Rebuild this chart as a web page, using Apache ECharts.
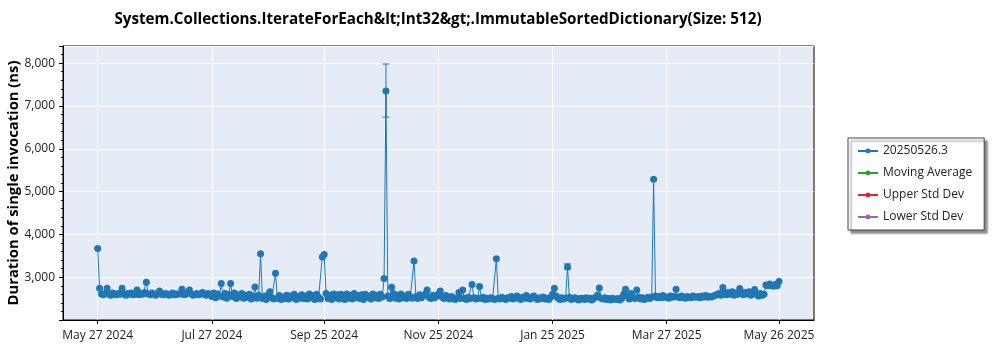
<!DOCTYPE html>
<html>
<head>
<meta charset="utf-8">
<script src="https://cdn.jsdelivr.net/npm/echarts@6/dist/echarts.min.js"></script>
<style>
html,body{margin:0;padding:0;background:#fff;}
#chart{width:1000px;height:350px;}
</style>
</head>
<body>
<div id="chart"></div>
<script>
// ---- data ----
const chartTitle = 'System.Collections.IterateForEach&lt;Int32&gt;.ImmutableSortedDictionary(Size: 512)';
const yAxisTitle = 'Duration of single invocation (ns)';
const seriesNames = ['20250526.3', 'Moving Average', 'Upper Std Dev', 'Lower Std Dev'];
const seriesColors = ['#1f77b4', '#2ca02c', '#d62728', '#9467bd'];
const firstDate = [2024, 4, 27];          // May 27 2024, one measurement per day
const tickDates = [[2024,4,27],[2024,6,27],[2024,8,25],[2024,10,25],[2025,0,25],[2025,2,27],[2025,4,26]];
const yTickValues = [3000, 4000, 5000, 6000, 7000, 8000];
const durations = [
 3670,2740,2610,2590,2620,2740,2600,2580,2630,2610,2590,2620,2600,2740,2610,2580,2620,2600,2630,2590,
 2610,2700,2590,2620,2600,2640,2880,2610,2590,2630,2600,2580,2620,2680,2600,2590,2620,2610,2580,2600,
 2630,2590,2610,2600,2620,2720,2590,2600,2630,2700,2610,2580,2600,2620,2590,2610,2640,2600,2580,2620,
 2600,2550,2630,2520,2610,2560,2855,2540,2620,2510,2600,2855,2550,2630,2500,2590,2540,2620,2510,2580,
 2530,2600,2490,2560,2770,2510,2580,3545,2500,2550,2480,2590,2660,2520,2490,3090,2510,2570,2480,2540,
 2500,2580,2490,2560,2520,2600,2480,2550,2510,2590,2500,2560,2490,2610,2520,2570,2480,2600,2530,2490,
 3470,3530,2620,2500,2580,2480,2610,2520,2590,2490,2600,2540,2480,2610,2510,2580,2490,2620,2520,2570,
 2500,2590,2480,2600,2530,2560,2490,2610,2520,2580,2500,2600,2540,2970,7350,2560,2500,2766,2620,2510,
 2580,2490,2610,2520,2560,2500,2600,2540,2510,3380,2550,2500,2590,2520,2570,2610,2700,2530,2500,2580,
 2520,2560,2610,2680,2540,2500,2570,2520,2490,2550,2500,2480,2520,2640,2500,2700,2510,2480,2530,2500,
 2830,2520,2490,2510,2780,2500,2530,2480,2510,2490,2520,2500,2480,3430,2510,2490,2530,2500,2480,2520,
 2510,2550,2490,2520,2560,2500,2480,2530,2510,2570,2500,2490,2540,2560,2510,2480,2520,2500,2540,2490,
 2510,2480,2530,2600,2740,2560,2510,2480,2520,2490,2510,3240,2530,2480,2500,2520,2490,2470,2510,2500,
 2480,2520,2490,2510,2470,2500,2530,2580,2750,2510,2490,2520,2480,2500,2470,2510,2490,2480,2500,2470,
 2510,2600,2720,2560,2490,2620,2530,2500,2700,2540,2490,2520,2480,2510,2530,2500,2540,5290,2560,2520,
 2550,2520,2570,2530,2540,2510,2560,2530,2550,2720,2540,2520,2560,2530,2510,2550,2530,2520,2560,2540,
 2530,2550,2520,2560,2540,2570,2530,2550,2540,2560,2580,2600,2620,2580,2760,2650,2590,2640,2600,2660,
 2580,2630,2600,2735,2650,2590,2640,2610,2660,2580,2620,2712,2600,2560,2620,2580,2600,2820,2800,2840,
 2810,2790,2830,2800,2900
];
// error bars: day index from firstDate, low, high
const errDays = [0, 154, 251];
const errLow  = [3650, 6740, 3190];
const errHigh = [3690, 7980, 3310];

// ---- build ----
const DAY = 86400000;
const t0 = new Date(firstDate[0], firstDate[1], firstDate[2]).getTime();
const dayTime = i => t0 + i * DAY;
const mainData = durations.map((v, i) => [dayTime(i), v]);
const errData = errDays.map((d, i) => [dayTime(d), errLow[i], errHigh[i]]);
const tickTimes = tickDates.map(d => new Date(d[0], d[1], d[2]).getTime());
const months = ['Jan','Feb','Mar','Apr','May','Jun','Jul','Aug','Sep','Oct','Nov','Dec'];
const fmtDate = v => { const d = new Date(v); return months[d.getMonth()] + ' ' + String(d.getDate()).padStart(2,'0') + ' ' + d.getFullYear(); };
const FONT = '"Open Sans", "Noto Sans", sans-serif';

const chart = echarts.init(document.getElementById('chart'), null, {renderer: 'canvas'});
chart.setOption({
  animation: false,
  backgroundColor: '#ffffff',
  title: {
    text: chartTitle,
    left: 433, top: 7, textAlign: 'center',
    textStyle: {fontFamily: FONT, fontWeight: 'bold', fontSize: 15.2, color: '#000'}
  },
  legend: {
    orient: 'vertical', left: 848, top: 138,
    padding: [7, 12, 7, 9],
    itemWidth: 20, itemHeight: 6, itemGap: 10,
    backgroundColor: '#fff', borderColor: '#444', borderWidth: 1,
    shadowColor: 'rgba(0,0,0,0.45)', shadowOffsetX: 3, shadowOffsetY: 3, shadowBlur: 2,
    textStyle: {fontFamily: FONT, fontSize: 12, color: '#222'},
    data: seriesNames
  },
  grid: {
    left: 63, right: 186, top: 46, bottom: 30,
    outerBoundsMode: 'none', containLabel: false,
    show: true, backgroundColor: '#e5ecf6', borderColor: '#000', borderWidth: 1
  },
  xAxis: {
    type: 'value',
    min: tickTimes[0] - 18.55 * DAY,
    max: tickTimes[tickTimes.length - 1] + 18.7 * DAY,
    axisLine: {lineStyle: {color: '#000'}},
    axisTick: {show: true, length: 4, lineStyle: {color: '#000'}, customValues: tickTimes},
    axisLabel: {customValues: tickTimes, formatter: fmtDate, fontFamily: FONT, fontSize: 12, color: '#222', margin: 10, hideOverlap: false},
    splitLine: {show: true, lineStyle: {color: '#ffffff', width: 1}}
  },
  yAxis: {
    type: 'value', min: 2000, max: 8400, interval: 1000,
    name: yAxisTitle, nameLocation: 'middle', nameGap: 42, nameMoveOverlap: false,
    nameTextStyle: {fontFamily: FONT, fontWeight: 'bold', fontSize: 14.8, color: '#000'},
    axisLine: {show: true, lineStyle: {color: '#000'}},
    axisTick: {show: true, length: 4, lineStyle: {color: '#000'}},
    minorTick: {show: true, splitNumber: 5, length: 2, lineStyle: {color: '#000'}},
    axisLabel: {
      fontFamily: FONT, fontSize: 12, color: '#222', margin: 8,
      showMinLabel: false, showMaxLabel: false,
      formatter: v => yTickValues.indexOf(v) >= 0 ? v.toLocaleString('en-US') : ''
    },
    splitLine: {show: true, lineStyle: {color: '#ffffff', width: 1}}
  },
  series: [
    {
      name: seriesNames[0], type: 'line', data: mainData,
      symbol: 'circle', symbolSize: 7, showSymbol: true, showAllSymbol: true,
      color: seriesColors[0], lineStyle: {width: 1, color: seriesColors[0]},
      itemStyle: {color: seriesColors[0]}, z: 3
    },
    {
      name: seriesNames[0] + ' err', type: 'custom', data: errData, z: 2,
      renderItem: (params, api) => {
        const x = api.coord([api.value(0), api.value(1)])[0];
        const yl = api.coord([api.value(0), api.value(1)])[1];
        const yh = api.coord([api.value(0), api.value(2)])[1];
        const st = {stroke: seriesColors[0], lineWidth: 1};
        return {type: 'group', children: [
          {type: 'line', shape: {x1: x, y1: yl, x2: x, y2: yh}, style: st},
          {type: 'line', shape: {x1: x - 3.5, y1: yl, x2: x + 3.5, y2: yl}, style: st},
          {type: 'line', shape: {x1: x - 3.5, y1: yh, x2: x + 3.5, y2: yh}, style: st}
        ]};
      }
    },
    {name: seriesNames[1], type: 'line', data: [], symbol: 'circle', symbolSize: 6, color: seriesColors[1]},
    {name: seriesNames[2], type: 'line', data: [], symbol: 'circle', symbolSize: 6, color: seriesColors[2]},
    {name: seriesNames[3], type: 'line', data: [], symbol: 'circle', symbolSize: 6, color: seriesColors[3]}
  ]
});
</script>
</body>
</html>
